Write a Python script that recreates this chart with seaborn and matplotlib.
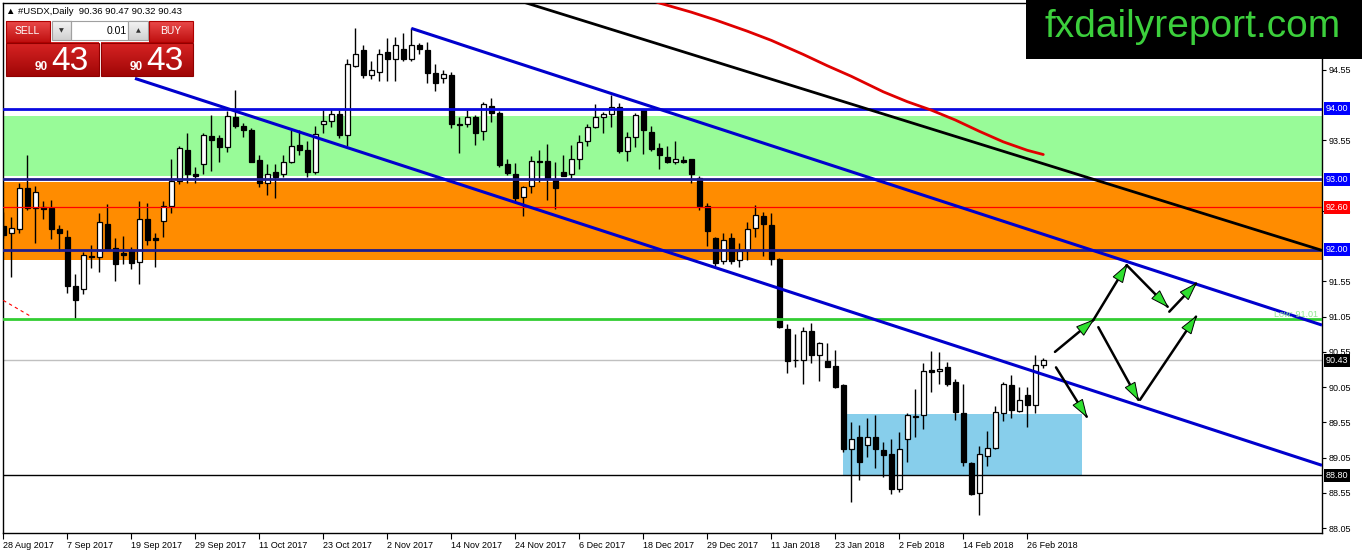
import numpy as np
import pandas as pd
import matplotlib
matplotlib.use("Agg")
import matplotlib.pyplot as plt
import matplotlib.transforms as mtransforms
from matplotlib.patches import Rectangle, Polygon
from matplotlib.colors import LinearSegmentedColormap
import seaborn as sns

# daily candles, 28 Aug 2017 .. 28 Feb 2018 (one entry per trading day)
opens = [92.33, 92.23, 92.30, 92.87, 92.59, 92.60, 92.59, 92.29, 92.18, 91.48,
         91.44, 91.91, 91.89, 92.37, 92.02, 91.95, 91.99, 91.83, 92.43, 92.16,
         92.40, 92.62, 92.97, 93.42, 93.08, 93.21, 93.61, 93.59, 93.46, 93.88,
         93.75, 93.70, 93.27, 92.94, 93.10, 93.07, 93.25, 93.48, 93.41, 93.10,
         93.79, 93.82, 93.92, 93.62, 94.61, 94.83, 94.48, 94.52, 94.80, 94.70,
         94.85, 94.70, 94.90, 94.84, 94.51, 94.43, 94.48, 93.78, 93.78, 93.88,
         93.68, 94.04, 93.94, 93.22, 93.08, 92.75, 92.90, 93.26, 93.26, 93.00,
         93.10, 93.07, 93.28, 93.54, 93.74, 93.88, 93.92, 94.02, 93.40, 93.60,
         93.98, 93.67, 93.44, 93.32, 93.24, 93.27, 93.28, 93.02, 92.62, 92.16,
         91.84, 92.16, 91.85, 92.00, 92.31, 92.48, 92.35, 91.87, 90.87, 90.44,
         90.44, 90.84, 90.51, 90.42, 90.35, 90.08, 89.17, 89.34, 89.23, 89.34,
         89.16, 89.10, 88.60, 89.32, 89.63, 89.65, 90.29, 90.28, 90.33, 90.12,
         89.68, 88.98, 88.55, 89.07, 89.18, 89.68, 90.08, 89.71, 89.94, 89.79,
         90.36]
highs = [92.53, 92.46, 92.95, 93.34, 92.91, 92.69, 92.71, 92.35, 92.28, 91.65,
         91.97, 92.06, 92.52, 92.65, 92.16, 92.19, 92.04, 92.69, 92.66, 92.24,
         92.69, 93.28, 93.47, 93.65, 93.17, 93.66, 93.91, 93.62, 93.97, 94.26,
         93.80, 93.72, 93.35, 93.21, 93.22, 93.35, 93.70, 93.70, 93.54, 93.75,
         93.98, 93.99, 93.98, 94.70, 95.14, 94.91, 94.68, 94.85, 95.01, 95.02,
         95.07, 95.14, 94.93, 94.95, 94.64, 94.55, 94.52, 93.88, 93.98, 93.91,
         94.10, 94.15, 93.97, 93.28, 93.23, 92.91, 93.33, 93.42, 93.50, 93.25,
         93.35, 93.48, 93.63, 93.79, 94.07, 93.95, 94.19, 94.08, 93.67, 93.94,
         94.00, 93.75, 93.51, 93.47, 93.54, 93.33, 93.29, 93.04, 92.66, 92.18,
         92.24, 92.24, 92.09, 92.39, 92.63, 92.54, 92.52, 91.88, 90.95, 90.81,
         90.90, 90.96, 90.69, 90.68, 90.57, 90.09, 89.56, 89.51, 89.61, 89.65,
         89.27, 89.32, 89.42, 89.68, 90.02, 90.39, 90.56, 90.55, 90.41, 90.16,
         90.10, 88.99, 89.21, 89.43, 89.78, 90.12, 90.22, 90.05, 90.05, 90.50,
         90.47]
lows = [92.16, 91.61, 92.23, 92.57, 92.09, 92.43, 92.15, 91.98, 91.39, 91.01,
        91.37, 91.74, 91.69, 91.99, 91.56, 91.79, 91.73, 91.51, 92.07, 91.76,
        92.18, 92.52, 92.93, 92.95, 92.95, 93.08, 93.12, 93.25, 93.39, 93.73,
        93.60, 93.25, 92.89, 92.77, 92.74, 93.03, 93.23, 93.35, 93.03, 93.08,
        93.65, 93.74, 93.59, 93.47, 94.59, 94.43, 94.42, 94.40, 94.40, 94.39,
        94.68, 94.68, 94.77, 94.37, 94.25, 94.36, 93.73, 93.37, 93.74, 93.48,
        93.55, 93.81, 93.18, 93.06, 92.69, 92.48, 92.80, 92.96, 92.70, 92.58,
        93.05, 93.01, 93.15, 93.47, 93.72, 93.65, 93.74, 93.37, 93.26, 93.46,
        93.36, 93.40, 93.14, 93.23, 93.21, 93.23, 92.95, 92.56, 92.05, 91.75,
        91.79, 91.79, 91.76, 91.85, 92.18, 91.91, 91.78, 90.89, 90.25, 90.34,
        90.09, 90.39, 90.14, 90.33, 90.04, 89.13, 88.42, 88.73, 89.06, 88.90,
        88.78, 88.54, 88.56, 88.99, 89.34, 89.45, 89.98, 90.10, 90.06, 89.59,
        88.93, 88.52, 88.23, 88.93, 89.17, 89.57, 89.61, 89.69, 89.48, 89.68,
        90.32]
closes = [92.21, 92.31, 92.88, 92.59, 92.82, 92.58, 92.29, 92.23, 91.49, 91.29,
          91.92, 91.89, 92.39, 92.00, 91.80, 91.93, 91.81, 92.43, 92.14, 92.14,
          92.62, 92.97, 93.44, 93.07, 93.04, 93.62, 93.56, 93.46, 93.89, 93.75,
          93.70, 93.25, 92.95, 93.08, 93.03, 93.25, 93.47, 93.42, 93.10, 93.64,
          93.82, 93.92, 93.62, 94.63, 94.78, 94.48, 94.55, 94.78, 94.70, 94.91,
          94.70, 94.91, 94.85, 94.50, 94.37, 94.49, 93.79, 93.77, 93.88, 93.65,
          94.06, 93.94, 93.20, 93.09, 92.73, 92.89, 93.26, 93.25, 93.00, 92.87,
          93.05, 93.28, 93.53, 93.74, 93.88, 93.93, 94.03, 93.40, 93.60, 93.91,
          93.70, 93.43, 93.34, 93.25, 93.28, 93.25, 93.07, 92.62, 92.27, 91.81,
          92.14, 91.84, 91.98, 92.30, 92.49, 92.36, 91.87, 90.90, 90.42, 90.43,
          90.85, 90.50, 90.67, 90.33, 90.05, 89.17, 89.32, 88.99, 89.34, 89.17,
          89.09, 88.61, 89.17, 89.65, 89.64, 90.28, 90.27, 90.31, 90.10, 89.69,
          88.99, 88.53, 89.10, 89.18, 89.69, 90.09, 89.72, 89.87, 89.79, 90.36,
          90.43]

date_labels = ["28 Aug 2017", "7 Sep 2017", "19 Sep 2017", "29 Sep 2017",
               "11 Oct 2017", "23 Oct 2017", "2 Nov 2017", "14 Nov 2017",
               "24 Nov 2017", "6 Dec 2017", "18 Dec 2017", "29 Dec 2017",
               "11 Jan 2018", "23 Jan 2018", "2 Feb 2018", "14 Feb 2018",
               "26 Feb 2018"]
label_bars = list(range(0, 129, 8))

# moving average (red), read at some bars
ma_bars = [80, 82, 86, 89, 93, 96, 100, 103, 106, 110, 113, 116, 119, 122, 125, 128, 130]
ma_vals = [95.58, 95.50, 95.37, 95.26, 95.10, 94.97, 94.77, 94.61, 94.46, 94.24,
           94.10, 93.98, 93.84, 93.68, 93.53, 93.41, 93.35]

# trend lines as (bar, price) pairs
lower_channel = [(16.46, 94.43), (164.84, 88.94)]
upper_channel = [(51.0, 95.14), (164.84, 90.93)]
black_trend = [(60.0, 95.69), (164.84, 91.99)]
red_dash = [(0.0, 91.28), (3.34, 91.06)]

# zones
green_zone = (93.04, 93.90)
orange_zone = (91.86, 92.96)
blue_box = (104.96, 134.9, 88.79, 89.67)

# scenario arrows (start bar, start price, end bar, end price)
arrows = [(131.46, 90.55, 136.25, 91.00),
          (136.25, 91.00, 140.43, 91.78),
          (140.43, 91.78, 145.55, 91.19),
          (145.75, 91.12, 149.09, 91.52),
          (131.59, 90.33, 135.43, 89.63),
          (136.88, 90.90, 141.88, 89.87),
          (142.09, 89.87, 149.09, 91.05)]

# price scale labels (the ones under the level boxes are not shown)
price_ticks = [88.05, 88.55, 89.05, 89.55, 90.05, 90.55, 91.05, 91.55,
               92.55, 93.55, 94.55]
level_boxes = [(94.00, "94.00", "#0000ff"), (93.00, "93.00", "#0000ff"),
               (92.60, "92.60", "#ff0000"), (92.00, "92.00", "#0000ff"),
               (90.43, "90.43", "#000000"), (88.80, "88.80", "#000000")]

df = pd.DataFrame({"open": opens, "high": highs, "low": lows, "close": closes})
df["bar"] = np.arange(len(df))
df["up"] = df["close"] >= df["open"]

sns.set_style("white")
plt.rcParams["font.family"] = ["Liberation Sans", "DejaVu Sans"]

W, H = 1362, 554
fig = plt.figure(figsize=(W / 100, H / 100), dpi=100)
fig.patch.set_facecolor("white")
ax = fig.add_axes([3 / W, 21 / H, 1319 / W, 530 / H])
ax.set_xlim(-0.04, 164.84)
ax.set_ylim(87.98, 95.50)

# zones
ax.axhspan(*green_zone, color="#98fb98", lw=0, zorder=0)
ax.axhspan(*orange_zone, color="#ff8c00", lw=0, zorder=0)
bx0, bx1, by0, by1 = blue_box
ax.add_patch(Rectangle((bx0, by0), bx1 - bx0, by1 - by0, color="#87ceeb", lw=0, zorder=0.5))

# candles
ax.vlines(df["bar"], df["low"], df["high"], color="black", lw=1, zorder=3)
body_bottom = df[["open", "close"]].min(axis=1)
body_h = (df["close"] - df["open"]).abs().clip(lower=0.004)
ax.bar(df["bar"], body_h, bottom=body_bottom, width=0.62,
       color=np.where(df["up"], "white", "black"), edgecolor="black",
       linewidth=0.9, zorder=3.5)

# horizontal levels
ax.axhline(94.00, color="#0a0ae0", lw=2, zorder=4)
ax.axhline(93.00, color="#1e1e8c", lw=2, zorder=4)
ax.axhline(92.00, color="#1e1e8c", lw=2, zorder=4)
ax.axhline(92.60, color="#ff0000", lw=0.9, zorder=4)
ax.axhline(91.01, color="#32cd32", lw=2, zorder=4)
ax.axhline(90.43, color="#c0c0c0", lw=1, zorder=2)
ax.axhline(88.80, color="black", lw=1, zorder=4)

# trend lines
for pts, col, lw in [(lower_channel, "#0000cd", 2.2), (upper_channel, "#0000cd", 2.2),
                     (black_trend, "black", 2)]:
    (x0, y0), (x1, y1) = pts
    ax.plot([x0, x1], [y0, y1], color=col, lw=lw, zorder=4.5, solid_capstyle="butt")
ax.plot(*zip(*red_dash), color="#ff0000", lw=0.8, ls=(0, (3, 3)), zorder=4)

sns.lineplot(x=ma_bars, y=ma_vals, ax=ax, color="#e00000", lw=2, zorder=4.6)

ax.text(164.3, 91.08, "Low: 91.01", color="#8ee88e", fontsize=6.5,
        ha="right", va="center", zorder=5)

# arrows: black shaft + green triangular head (sized in pixels)
fig.canvas.draw()
to_px = ax.transData.transform
to_data = ax.transData.inverted().transform
for sx, sy, ex, ey in arrows:
    ax.plot([sx, ex], [sy, ey], color="black", lw=1.8, zorder=6)
    p0, p1 = to_px((sx, sy)), to_px((ex, ey))
    u = (p1 - p0) / np.hypot(*(p1 - p0))
    n = np.array([-u[1], u[0]])
    base = p1 - 17 * u
    tri = np.array([p1, base + 5.5 * n, base - 5.5 * n])
    ax.add_patch(Polygon(to_data(tri), closed=True, fc="#2fe02f", ec="black",
                         lw=0.7, zorder=7))

# axes styling
for s in ax.spines.values():
    s.set_color("black")
    s.set_linewidth(1)
ax.yaxis.tick_right()
ax.set_yticks(price_ticks)
ax.set_yticklabels([f"{v:.2f}" for v in price_ticks])
ax.tick_params(axis="y", direction="out", length=3, width=0.8, pad=2,
               labelsize=6.5, colors="black", right=True, left=False)
ax.set_xticks(label_bars)
ax.set_xticklabels(date_labels, ha="left")
ax.tick_params(axis="x", direction="out", length=4, width=0.8, pad=2,
               labelsize=6.5, colors="black", bottom=True)
ax.set_xlabel("")
ax.set_ylabel("")
ax.grid(False)

trans = mtransforms.blended_transform_factory(ax.transAxes, ax.transData)
for val, txt, col in level_boxes:
    ax.text(1 + 4 / 1319, val, txt, transform=trans, ha="left", va="center",
            fontsize=6.5, color="white", zorder=20, clip_on=False,
            bbox=dict(boxstyle="square,pad=0.2", fc=col, ec="none"))

# overlay in pixel coordinates for the trade panel and the watermark
ov = fig.add_axes([0, 0, 1, 1], zorder=10)
ov.set_xlim(0, W)
ov.set_ylim(H, 0)
ov.axis("off")
ov.patch.set_alpha(0)


def grad_box(x0, y0, x1, y1, c_top, c_bot, edge=None):
    cmap = LinearSegmentedColormap.from_list("g", [c_top, c_bot])
    g = np.linspace(0, 1, 64).reshape(-1, 1)
    ov.imshow(g, cmap=cmap, extent=(x0, x1, y1, y0), aspect="auto",
              origin="upper", zorder=1)
    if edge:
        ov.add_patch(Rectangle((x0, y0), x1 - x0, y1 - y0, fill=False,
                               ec=edge, lw=0.8, zorder=2))


ov.text(6, 11, "\u25b2 #USDX,Daily  90.36 90.47 90.32 90.43", fontsize=6.8,
        ha="left", va="center", color="black")

grad_box(6, 20.7, 49.5, 41.7, "#ea4a4a", "#c01010", edge="#b00000")
grad_box(51.5, 20.7, 71, 40, "#f6f6f6", "#d0d0d0", edge="#a0a0a0")
ov.add_patch(Rectangle((71, 20.7), 57.3, 19.3, fc="white", ec="#a0a0a0", lw=0.8, zorder=1))
grad_box(128.3, 20.7, 148.3, 40, "#f6f6f6", "#d0d0d0", edge="#a0a0a0")
grad_box(149.3, 20.7, 192.7, 41.7, "#ea4a4a", "#c01010", edge="#b00000")
grad_box(6, 42.5, 99, 76, "#d82424", "#a00606", edge="#900000")
grad_box(100.7, 42.5, 192.7, 76, "#d82424", "#a00606", edge="#900000")

ov.text(27.7, 31.5, "SELL", color="white", fontsize=7.5, ha="center", va="center", zorder=3)
ov.text(171, 31.5, "BUY", color="white", fontsize=7.5, ha="center", va="center", zorder=3)
ov.text(61.2, 30.5, "\u25bc", color="#333333", fontsize=4.5, ha="center", va="center",
        family=["DejaVu Sans"], zorder=3)
ov.text(138.3, 30.5, "\u25b2", color="#333333", fontsize=4.5, ha="center", va="center",
        family=["DejaVu Sans"], zorder=3)
ov.text(126.5, 30.8, "0.01", color="black", fontsize=7.5, ha="right", va="center", zorder=3)
for x90, x43 in [(35, 51), (130, 146)]:
    ov.text(x90, 70, "90", color="white", fontsize=8.5, fontweight="bold",
            ha="left", va="baseline", zorder=3)
    ov.text(x43, 70.5, "43", color="white", fontsize=24, ha="left",
            va="baseline", zorder=3)

ov.add_patch(Rectangle((1026, 0), W - 1026, 59, fc="black", ec="none", zorder=5))
ov.text(1193, 37, "fxdailyreport.com", color="#3ccf3c", fontsize=28,
        ha="center", va="baseline", zorder=6)

fig.savefig("out.png", dpi=100, facecolor="white")
